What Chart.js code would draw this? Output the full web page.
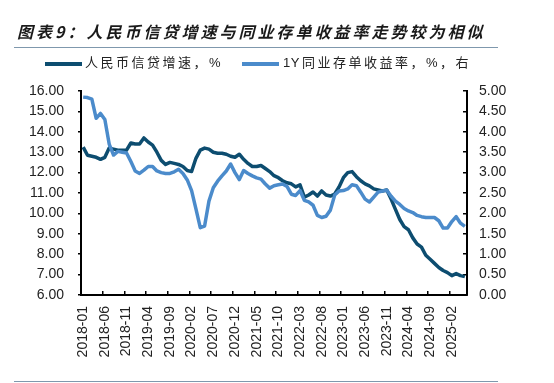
<!DOCTYPE html>
<html>
<head>
<meta charset="utf-8">
<script src="https://cdn.jsdelivr.net/npm/chart.js@4/dist/chart.umd.min.js"></script>
<style>
  html, body { margin: 0; padding: 0; background: #fff; }
  #wrap { position: relative; width: 554px; height: 383px; overflow: hidden; background: #fff; }
  #c { position: absolute; left: 0; top: 0; }
  .title { position: absolute; left: 17px; top: 21px; font: italic bold 16px/20px "Noto Sans CJK SC", sans-serif; letter-spacing: 3px; color: #1a1a1a; white-space: nowrap; }
  .rule { position: absolute; left: 14px; width: 484px; height: 1.5px; background: #7f98ad; }
  .sw { position: absolute; height: 4px; width: 37px; }
  .lt { position: absolute; font: 13px/16px "Liberation Sans", "Noto Sans CJK SC", sans-serif; letter-spacing: 2.5px; color: #222; white-space: nowrap; }
  .tight { letter-spacing: 0.5px; }
</style>
</head>
<body>
<div id="wrap">
  <canvas id="c" width="554" height="383"></canvas>
  <div class="title">图表9：人民币信贷增速与同业存单收益率走势较为相似</div>
  <div class="rule" style="top:46.5px"></div>
  <div class="sw" style="left:45px; top:61.5px; background:#0d4d70"></div>
  <div class="lt" style="left:85px; top:55px">人民币信贷增速，%</div>
  <div class="sw" style="left:242px; top:61.5px; background:#4b8bcb"></div>
  <div class="lt" style="left:283px; top:55px"><span class="tight">1</span>Y同业存单收益率，%，右</div>
  <div class="rule" style="top:380.5px"></div>
</div>
<script>
const months = [
  '2018-01','2018-02','2018-03','2018-04','2018-05','2018-06','2018-07','2018-08','2018-09','2018-10','2018-11','2018-12',
  '2019-01','2019-02','2019-03','2019-04','2019-05','2019-06','2019-07','2019-08','2019-09','2019-10','2019-11','2019-12',
  '2020-01','2020-02','2020-03','2020-04','2020-05','2020-06','2020-07','2020-08','2020-09','2020-10','2020-11','2020-12',
  '2021-01','2021-02','2021-03','2021-04','2021-05','2021-06','2021-07','2021-08','2021-09','2021-10','2021-11','2021-12',
  '2022-01','2022-02','2022-03','2022-04','2022-05','2022-06','2022-07','2022-08','2022-09','2022-10','2022-11','2022-12',
  '2023-01','2023-02','2023-03','2023-04','2023-05','2023-06','2023-07','2023-08','2023-09','2023-10','2023-11','2023-12',
  '2024-01','2024-02','2024-03','2024-04','2024-05','2024-06','2024-07','2024-08','2024-09','2024-10','2024-11','2024-12',
  '2025-01','2025-02','2025-03','2025-04','2025-05'
];

// 人民币信贷增速，% (left axis)
const creditGrowth = [
  13.25,12.85,12.80,12.75,12.65,12.75,13.20,13.15,13.10,13.10,13.10,13.45,
  13.40,13.40,13.70,13.50,13.35,13.00,12.60,12.40,12.50,12.45,12.40,12.30,
  12.10,12.05,12.70,13.10,13.20,13.15,13.00,12.95,12.95,12.90,12.80,12.75,
  12.90,12.65,12.45,12.30,12.30,12.35,12.20,12.05,11.85,11.75,11.60,11.50,
  11.45,11.30,11.40,10.80,10.90,11.05,10.85,11.10,10.90,10.85,10.95,11.30,
  11.75,12.00,12.05,11.80,11.60,11.45,11.35,11.20,11.15,11.10,11.15,10.70,
  10.20,9.70,9.35,9.20,8.80,8.50,8.35,7.95,7.75,7.55,7.35,7.20,
  7.10,6.95,7.05,6.95,6.90
];

// 1Y同业存单收益率，% (right axis)
const ncdYield = [
  4.85,4.84,4.80,4.33,4.45,4.30,3.70,3.43,3.52,3.50,3.48,3.27,
  3.04,2.98,3.06,3.15,3.15,3.04,3.00,2.98,2.98,3.02,3.08,2.98,
  2.82,2.56,2.11,1.65,1.69,2.30,2.63,2.79,2.92,3.04,3.21,3.00,
  2.83,3.05,2.98,2.92,2.87,2.84,2.72,2.62,2.68,2.70,2.72,2.66,
  2.47,2.44,2.56,2.32,2.28,2.20,1.95,1.90,1.93,2.08,2.45,2.55,
  2.56,2.60,2.70,2.68,2.52,2.35,2.28,2.40,2.52,2.55,2.57,2.42,
  2.30,2.22,2.12,2.06,2.02,1.95,1.92,1.90,1.90,1.90,1.82,1.64,
  1.64,1.80,1.92,1.76,1.68
];

const seriesNames = ['人民币信贷增速，%', '1Y同业存单收益率，%，右'];
const leftRange = { min: 6, max: 16, step: 1 };
const rightRange = { min: 0, max: 5, step: 0.5 };
const labelEvery = 5;

const tickFont = { family: '"Liberation Sans", Arial, sans-serif', size: 14 };
const tickColor = '#222';

new Chart(document.getElementById('c'), {
  type: 'line',
  data: {
    labels: months,
    datasets: [
      { label: seriesNames[0], data: creditGrowth, yAxisID: 'y', borderColor: '#0d4d70', backgroundColor: '#0d4d70',
        borderWidth: 3.5, pointRadius: 0, tension: 0, borderJoinStyle: 'round', order: 2 },
      { label: seriesNames[1], data: ncdYield, yAxisID: 'y1', borderColor: '#4b8bcb', backgroundColor: '#4b8bcb',
        borderWidth: 3.5, pointRadius: 0, tension: 0, borderJoinStyle: 'round', order: 1 }
    ]
  },
  options: {
    responsive: false,
    animation: false,
    devicePixelRatio: 1,
    layout: { padding: { top: 91, left: 0, right: 0, bottom: 0 } },
    plugins: { legend: { display: false }, tooltip: { enabled: false }, title: { display: false } },
    scales: {
      x: {
        type: 'category',
        offset: true,
        grid: {
          offset: true, drawOnChartArea: false, drawTicks: true, tickLength: -4, lineWidth: 1.5,
          color: (ctx) => (ctx.index !== undefined && ctx.index % labelEvery === 0) ? '#000' : 'rgba(0,0,0,0)'
        },
        border: { display: true, color: '#000', width: 2 },
        ticks: {
          autoSkip: false, maxRotation: 90, minRotation: 90, padding: 15,
          color: tickColor, font: tickFont,
          callback: function (v, i) { return i % labelEvery === 0 ? this.getLabelForValue(v) : ''; }
        },
        afterFit: (s) => { s.height = 88; }
      },
      y: {
        position: 'left',
        min: leftRange.min, max: leftRange.max,
        grid: { drawOnChartArea: false, drawTicks: true, tickLength: 3, color: '#000', lineWidth: 1.5 },
        border: { display: true, color: '#000', width: 2 },
        ticks: { stepSize: leftRange.step, padding: 14, color: tickColor, font: tickFont, callback: (v) => Number(v).toFixed(2) },
        afterFit: (s) => { s.width = 81; }
      },
      y1: {
        position: 'right',
        min: rightRange.min, max: rightRange.max,
        grid: { drawOnChartArea: false, drawTicks: true, tickLength: -4, color: '#000', lineWidth: 1.5 },
        border: { display: true, color: '#000', width: 2 },
        ticks: { stepSize: rightRange.step, padding: 16, color: tickColor, font: tickFont, callback: (v) => Number(v).toFixed(2) },
        afterFit: (s) => { s.width = 87; }
      }
    }
  }
});
</script>
</body>
</html>
